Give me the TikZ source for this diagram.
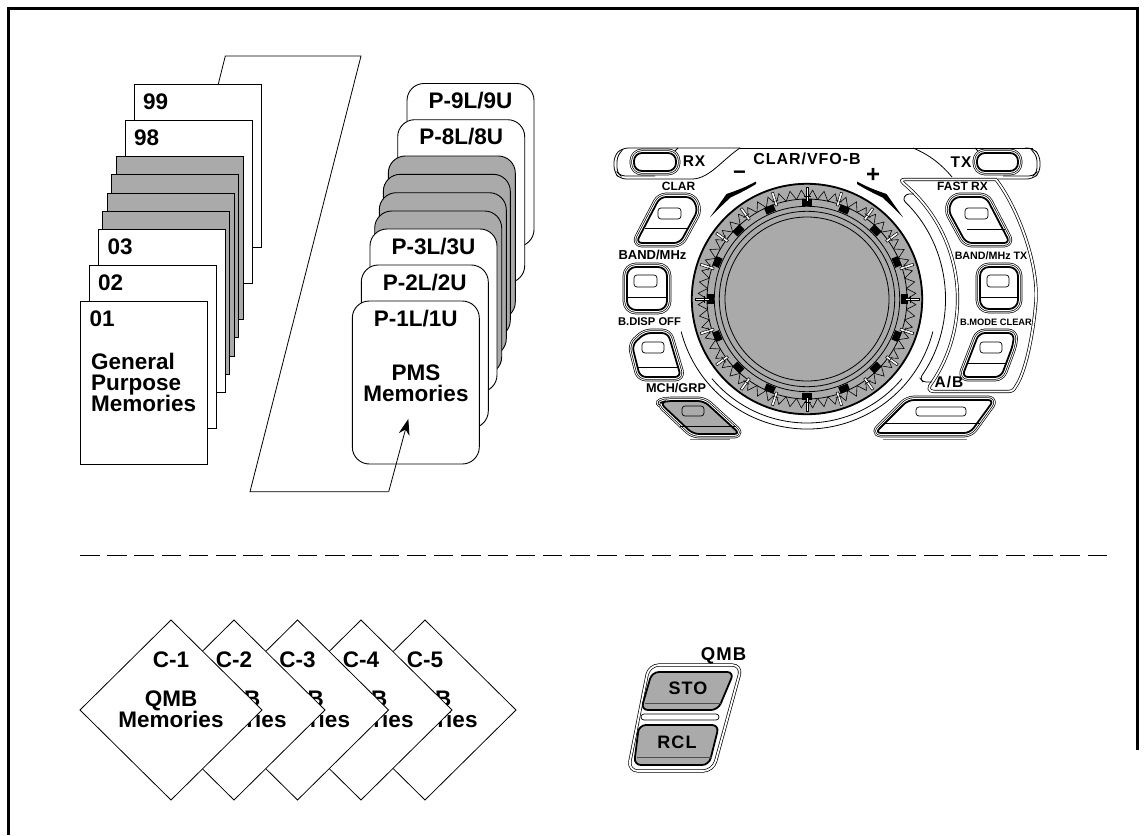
\documentclass[tikz,border=0pt]{standalone}
\usepackage{fontspec}
\usetikzlibrary{shapes.geometric,arrows.meta}
\setmainfont{Liberation Sans}
\newfontfamily\spacedfont[LetterSpace=6]{Liberation Sans}
\definecolor{panelgray}{RGB}{170,170,170}
\newcommand{\keybtn}[3][white]{
    \draw[line width=8.7pt, rounded corners=#2, line join=round] #3;
    \draw[line width=7.3pt, white, rounded corners=#2, line join=round] #3;
    \draw[line width=5.3pt, rounded corners=#2, line join=round] #3;
    \draw[line width=3.9pt, white, rounded corners=#2, line join=round] #3;
    \draw[line width=1.8pt, fill=#1, rounded corners=#2, line join=round] #3;
}
\newcommand{\dialarrow}{
    \fill (756,181.5) .. controls (746,187) and (738,190) .. (726.5,194) -- (710,217.3) -- (723,204.5) -- (730.5,197.5) .. controls (740,193) and (748,189) .. (756,184) -- cycle;
}

\begin{document}
\begin{tikzpicture}[x=1pt, y=-1pt,
    card/.style={rectangle, draw, fill=white, line width=0.9pt, minimum width=127pt, minimum height=163pt, inner sep=0pt, outer sep=0pt, anchor=north west},
    pmscard/.style={card, rounded corners=17pt},
    qmbcard/.style={diamond, draw, fill=white, line width=0.8pt, minimum width=182pt, minimum height=180pt, aspect=1, inner sep=0pt, outer sep=0pt},
    cardtext/.style={font=\bfseries\fontsize{22.5}{21}\selectfont, inner sep=0pt},
    panellabel/.style={font=\bfseries\fontsize{#1}{#1}\selectfont, inner sep=0pt, anchor=base},
    spacedlabel/.style={font=\spacedfont\bfseries\fontsize{#1}{#1}\selectfont, inner sep=0pt, anchor=base},
    panelline/.style={line width=0.8pt},
    paneldouble/.style={line width=0.7pt, double=white, double distance=1.8pt},
    keyslot/.style={draw, line width=0.7pt, rounded corners=3pt, fill=white},
    arrow/.style={-{Stealth[length=16pt,width=11pt]}, line width=0.8pt}
]
    \useasboundingbox (0,0) rectangle (1145,835);

    \draw[line width=3pt] (8.5,835) -- (8.5,8) -- (1137,8) -- (1137,750);

    \foreach \n/\x/\y in {99/134/84, 98/125/120} {
        \node[card] (g\n) at (\x,\y) {};
        \node[cardtext, anchor=base west] (l\n) at ([xshift=9pt,yshift=-25pt]g\n.north west) {\n};
    }
    \foreach \n/\x/\y in {a/116.3/156.3, b/111.7/174.7, c/107/193, d/102.3/211.3} {
        \node[card, fill=panelgray] (g\n) at (\x,\y) {};
    }
    \foreach \n/\x/\y in {03/98.3/229, 02/89/265.3, 01/80.3/301.7} {
        \node[card] (g\n) at (\x,\y) {};
        \node[cardtext, anchor=base west] (l\n) at ([xshift=9pt,yshift=-25pt]g\n.north west) {\n};
    }
    \node[cardtext, anchor=north west, align=left] (gentext) at (91,353) {General\\Purpose\\Memories};

    \foreach \n/\x/\y in {9/407/83.5, 8/397.7/119.7} {
        \node[pmscard] (p\n) at (\x,\y) {};
        \node[cardtext, anchor=base] (pl\n) at ([yshift=-25pt]p\n.north) {P-\n L/\n U};
    }
    \foreach \n/\x/\y in {a/388.3/156, b/383.3/174.3, c/379.3/192.7, d/374.7/211} {
        \node[pmscard, fill=panelgray] (p\n) at (\x,\y) {};
    }
    \foreach \n/\x/\y in {3/370/229, 2/361.3/265, 1/352.3/301} {
        \node[pmscard] (p\n) at (\x,\y) {};
        \node[cardtext, anchor=base] (pl\n) at ([yshift=-25pt]p\n.north) {P-\n L/\n U};
    }
    \node[cardtext, anchor=north, align=center] (pmstext) at (416,364.7) {PMS\\Memories};

    \coordinate (bracketa) at ([xshift=84.3pt]g99.north west);
    \coordinate (bracketb) at (225.3,56);
    \coordinate (bracketc) at (361,56);
    \coordinate (bracketd) at (250,491.7);
    \coordinate (bracketf) at (388.7,491.7);
    \coordinate (pmsin) at (408.3,419);
    \draw[panelline] (bracketa) -- (bracketb) -- (bracketc) -- (bracketd) -- (bracketf);
    \draw[arrow] (bracketf) -- (pmsin);

    \coordinate (sepa) at (80,555);
    \coordinate (sepb) at (1107,555);
    \draw[line width=0.8pt, dash pattern=on 19.5pt off 7.73pt] (sepa) -- (sepb);

    \foreach \n/\x in {5/425, 4/361, 3/297.5, 2/234, 1/171} {
        \node[qmbcard] (c\n) at (\x,710) {};
        \node[cardtext, anchor=base] (cl\n) at (\x,667.7) {C-\n};
        \node[cardtext, anchor=north, align=center] (ct\n) at (\x,690.7) {QMB\\Memories};
    }

    \begin{scope}[shift={(807,299)}]
        \fill[panelgray] (0,0) circle (116);
        \draw[line width=1.8pt] (0,0) circle (115.2);
        \foreach \a in {0,6,...,354} {
            \draw[line width=0.6pt] (\a:100) -- (\a+3:109) -- (\a+6:100);
        }
        \foreach \r in {100,92.7,87.7,82} {
            \draw[line width=0.8pt] (0,0) circle (\r);
        }
        \foreach \a in {0,22.5,...,337.5} {
            \fill[rotate=\a] (93.5,-5) rectangle (100.5,5);
        }
        \foreach \a in {0,18,...,342} {
            \draw[rotate=\a, line width=0.5pt, fill=white] (98,-1.2) rectangle (112,1.2);
            \draw[rotate=\a, line width=0.5pt] (103,-3.5) -- (103,3.5);
        }
        \draw[panelline] (14.5:130) arc (14.5:165.5:130);
        \draw[panelline] (40:124) arc (40:140:124);
    \end{scope}

    \dialarrow
    \begin{scope}[xshift=1613pt, xscale=-1]
        \dialarrow
    \end{scope}

    \draw[panelline, rounded corners=6pt] (740,148) -- (622,148) -- (614,156) -- (614,172) -- (620,179) -- (693,179);
    \draw[panelline] (693,179) .. controls (710,178) and (722,160) .. (740,148);
    \draw[panelline, rounded corners=4pt] (623,149) -- (617,157) -- (617,172) -- (621,176) -- (655,176);
    \draw[panelline] (678,148) -- (673,153);
    \draw[panelline] (740,148) -- (1033,148);
    \draw[panelline, rounded corners=6pt] (1025,148) -- (1033,148) -- (1040,156) -- (1040,172) -- (1033,179) -- (998,179);
    \draw[panelline, rounded corners=4pt] (1031,149) -- (1037,157) -- (1037,172) -- (1033,176) -- (1003,176);
    \draw[panelline] (913,148) .. controls (930,155) and (942,165) .. (952,177);
    \draw[panelline] (975,148) -- (980,153);

    \draw[paneldouble] (931.8,383) arc (34:-50:150.5) .. controls (901,181) and (901,179.5) .. (905,179.5) -- (996,179.5) .. controls (1016,205) and (1038,260) .. (1036,300) .. controls (1033,340) and (1024,375) .. (1016,386) .. controls (1014,390) and (1012,391.5) .. (1008,391.5) -- (934,391.5) .. controls (928,391.5) and (928,387) .. (931.8,383) -- cycle;
    \draw[panelline, rounded corners=3pt] (914,194) -- (906,194) -- (902.9,199.7) arc (-46:35:138) -- (923,382) -- (932,382);

    \keybtn{8pt}{(634,153) rectangle (676,171)}
    \keybtn{8pt}{(977,153) rectangle (1018,171)}

    \keybtn{6pt}{(660,197) -- (692,197) -- (698,210) -- (680,243) -- (636,243) -- cycle}
    \draw[keyslot] (658,208) rectangle (681,219);
    \draw[panelline] (645,228) -- (687,228);

    \keybtn{9pt}{(627,267) -- (667,267) -- (667,310) -- (627,310) -- cycle}
    \draw[keyslot] (634,275) rectangle (657,287);
    \draw[panelline] (628,297) -- (666,297);

    \keybtn{6pt}{(645,333) -- (668,333) -- (681,377) -- (640,377) -- (632,345) -- cycle}
    \draw[keyslot] (642,342) rectangle (664,353);
    \draw[panelline] (638,367) -- (679,367);

    \draw[line width=1.5pt, black!50] (690,439.5) -- (730,439.5);
    \keybtn[panelgray]{6pt}{(666,401) -- (704,401) -- (740,434) -- (693,434) -- (660,403) -- cycle}
    \draw[keyslot, fill=panelgray] (682,406) rectangle (704,416);
    \draw[panelline] (680,426) -- (736,426);

    \keybtn{6pt}{(986,197) -- (954,197) -- (948,210) -- (966,243) -- (1010,243) -- cycle}
    \draw[keyslot] (965,208) rectangle (988,219);
    \draw[panelline] (967,229) -- (1005,229);

    \keybtn{9pt}{(980,267) -- (1018,267) -- (1018,309) -- (980,309) -- cycle}
    \draw[keyslot] (987,275) rectangle (1009,287);
    \draw[panelline] (981,297) -- (1017,297);

    \keybtn{6pt}{(979,333) -- (1014,333) -- (1013,345) -- (1001,377) -- (962,377) -- cycle}
    \draw[keyslot] (980,342) rectangle (1002,353);
    \draw[panelline] (968,363) -- (1005,363);

    \draw[line width=1.5pt, black!50] (883,439.5) -- (967,439.5);
    \keybtn{6pt}{(908,400) -- (994,400) -- (970,433) -- (875,433) -- cycle}
    \draw[keyslot] (916,407) rectangle (966,416);
    \draw[panelline] (885,423) -- (980,423);

    \node[spacedlabel=16] (clarvfo) at (807,164) {CLAR/VFO-B};
    \node[spacedlabel=15.5] (rxlab) at (694,166) {RX};
    \node[spacedlabel=15.5] (txlab) at (961,167.5) {TX};
    \node[panellabel=12] (clarlab) at (678.5,190.7) {CLAR};
    \node[panellabel=13] (bandlab) at (652.5,259.3) {BAND/MHz};
    \node[panellabel=11.2] (bdisplab) at (649.5,325.7) {B.DISP OFF};
    \node[panellabel=12.7] (mchlab) at (676,392) {MCH/GRP};
    \node[panellabel=12] (fastlab) at (962.5,190.7) {FAST  RX};
    \node[panellabel=10.7] (bandtxlab) at (991,259) {BAND/MHz TX};
    \node[panellabel=9.3] (bmodelab) at (996,325) {B.MODE CLEAR};
    \node[spacedlabel=15.5] (ablab) at (949,387) {A/B};
    \node[font=\bfseries\fontsize{22}{22}\selectfont, inner sep=0pt] (minuslab) at (739.5,175) {−};
    \node[font=\bfseries\fontsize{24}{24}\selectfont, inner sep=0pt] (pluslab) at (873,175) {+};

    \draw[paneldouble, rounded corners=10pt] (649,665) -- (742,665) -- (713,771) -- (628,771) -- cycle;
    \draw[line width=1.8pt, fill=panelgray, rounded corners=7pt] (652,672) -- (734,672) -- (718,710) -- (641,710) -- cycle;
    \draw[line width=0.8pt, black!70] (645,703) -- (721,703);
    \draw[line width=1.8pt, fill=panelgray, rounded corners=7pt] (639,725) -- (719,725) -- (709,765) -- (634,765) -- cycle;
    \draw[line width=0.8pt, black!70] (637,757) -- (712,757);
    \draw[line width=0.7pt, rounded corners=3pt] (641,714) rectangle (719,720);
    \node[spacedlabel=18] (stolab) at (688,694) {STO};
    \node[spacedlabel=18] (rcllab) at (677,748) {RCL};
    \node[spacedlabel=18.5] (qmblab) at (723.5,660) {QMB};
\end{tikzpicture}
\end{document}
